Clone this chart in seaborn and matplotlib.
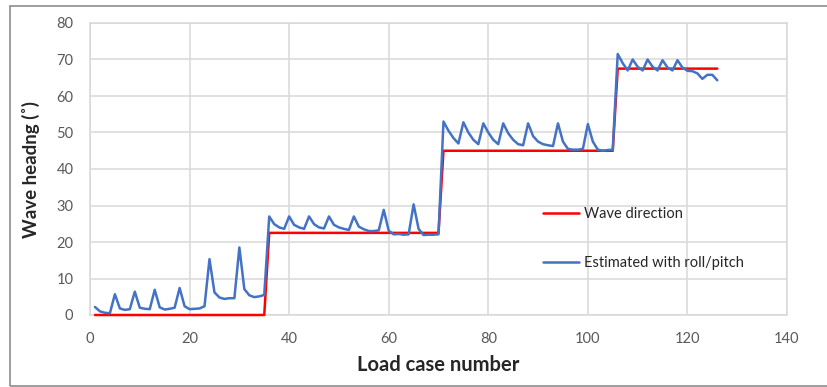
import numpy as np
import pandas as pd
import matplotlib.pyplot as plt
import seaborn as sns
from matplotlib.patches import Rectangle

# Load case numbers 1..126
load_case = np.arange(1, 127)

# Wave direction (steps of 22.5 deg)
wave_direction = [0.0] * 35 + [22.5] * 35 + [45.0] * 35 + [67.5] * 21

# Estimated heading from roll/pitch
est_block1 = [2.2, 1.0, 0.6, 0.5, 5.7, 1.8, 1.4, 1.6, 6.4, 2.0,
              1.7, 1.6, 6.9, 2.1, 1.5, 1.7, 2.0, 7.4, 2.4, 1.6,
              1.7, 1.8, 2.4, 15.3, 6.2, 4.8, 4.4, 4.6, 4.6, 18.5,
              7.1, 5.4, 4.9, 5.1, 5.5]
est_block2 = [27.0, 24.9, 24.0, 23.6, 27.0, 24.7, 24.0, 23.6, 27.0, 24.9,
              24.0, 23.7, 27.0, 24.7, 24.0, 23.6, 23.3, 27.0, 24.2, 23.5,
              23.0, 23.0, 23.2, 28.8, 23.1, 22.1, 22.2, 22.0, 22.1, 30.3,
              23.6, 21.9, 22.0, 22.0, 22.1]
est_block3 = [53.0, 50.5, 48.5, 47.0, 52.8, 50.0, 48.0, 46.8, 52.5, 50.0,
              48.0, 46.8, 52.5, 49.8, 48.0, 46.8, 46.5, 52.5, 49.0, 47.5,
              46.8, 46.5, 46.3, 52.5, 47.5, 45.5, 45.3, 45.3, 45.5, 52.3,
              47.5, 45.3, 45.0, 45.2, 45.3]
est_block4 = [71.5, 69.0, 67.0, 70.0, 68.0, 67.0, 70.0, 68.0, 67.0, 69.8,
              67.8, 67.0, 69.8, 67.8, 66.9, 66.8, 66.2, 64.7, 65.8, 65.8,
              64.3]
estimated = est_block1 + est_block2 + est_block3 + est_block4

series_names = ["Wave direction", "Estimated with roll/pitch"]
colors = ["#FF0000", "#4472C4"]

df = pd.DataFrame({
    "case": np.concatenate([load_case, load_case]),
    "heading": wave_direction + estimated,
    "series": [series_names[0]] * len(load_case) + [series_names[1]] * len(load_case),
})

sns.set_style("white")
plt.rcParams["font.family"] = ["Lato", "DejaVu Sans"]

fig = plt.figure(figsize=(8.27, 3.87), dpi=100)
ax = fig.add_axes([90 / 827, 1 - 315 / 387, 697 / 827, 292 / 387])

sns.lineplot(data=df, x="case", y="heading", hue="series",
             palette=dict(zip(series_names, colors)), linewidth=1.8, ax=ax)
for ln in ax.get_lines():
    ln.set_clip_on(False)
    ln.set_zorder(3)

ax.set_xlim(0, 140)
ax.set_ylim(0, 80)
ax.set_xticks(range(0, 141, 20))
ax.set_yticks(range(0, 81, 10))
ax.grid(True, color="#d9d9d9", linewidth=1.1)
ax.set_axisbelow(True)
for s in ax.spines.values():
    s.set_color("#d9d9d9")
    s.set_linewidth(1.1)
ax.tick_params(axis="both", length=0, colors="#595959", labelsize=10.5)
ax.tick_params(axis="x", pad=12)
ax.tick_params(axis="y", pad=12)

ax.set_xlabel("Load case number", fontsize=14.5, fontweight="bold", labelpad=7)
ax.set_ylabel("Wave headng (\u02da)", fontsize=13.5, fontweight="bold", labelpad=12)

ax.legend(loc="upper left", bbox_to_anchor=(543 / 827, 1 - 207 / 387),
          bbox_transform=fig.transFigure, frameon=False, fontsize=10.5,
          labelspacing=2.4, handlelength=2.5, handletextpad=0.3,
          borderpad=0, borderaxespad=0, labelcolor="#262626")

# outer chart border
fig.patches.append(Rectangle((10 / 827, 1 - 386 / 387), 1.0, 380 / 387,
                             transform=fig.transFigure, fill=False,
                             edgecolor="#8c8c8c", linewidth=1.2))

plt.savefig("out.png", dpi=100)
